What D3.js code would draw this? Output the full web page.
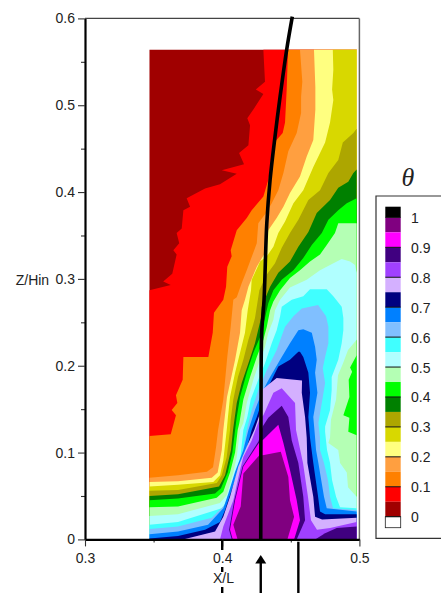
<!DOCTYPE html>
<html>
  <head>
    <meta charset="utf-8"/>
    <title>Theta contour</title>
    <style>
      html, body { margin: 0; padding: 0; background: #fff; overflow: hidden; }
      svg { display: block; }
      text { font-family: "Liberation Sans", Arial, sans-serif; font-size: 14px; fill: #222; }
    </style>
  </head>
  <body>
    <svg id="chart" width="441" height="593"></svg>

    <script src="https://d3js.org/d3.v7.min.js"></script>
    <script type="text/javascript">
      // contour outlines, [X/L, Z/Hin]
      const field_area = [[0.347,0.564],[0.498,0.564],[0.498,0],[0.347,0]];

      const contour_red = [[0.4300,0.564],[0.4305,0.548],[0.4312,0.527],[0.4245,0.518],[0.4300,0.513],[0.4227,0.495],[0.4183,0.485],[0.4203,0.477],[0.4191,0.454],[0.4123,0.445],[0.4159,0.432],[0.3997,0.425],[0.4106,0.421],[0.3984,0.409],[0.3875,0.404],[0.3741,0.393],[0.3766,0.383],[0.3717,0.379],[0.3705,0.358],[0.3668,0.353],[0.3687,0.341],[0.3644,0.333],[0.3668,0.328],[0.3636,0.306],[0.3570,0.297],[0.3625,0.293],[0.347,0.287],[0.347,0],[0.498,0],[0.498,0.564]];
      const contour_orange = [[0.4480,0.564],[0.4470,0.518],[0.4458,0.480],[0.4441,0.468],[0.4385,0.458],[0.4336,0.414],[0.4300,0.395],[0.4215,0.379],[0.4179,0.370],[0.4106,0.356],[0.4062,0.333],[0.4069,0.326],[0.4037,0.314],[0.4028,0.291],[0.4008,0.276],[0.3940,0.261],[0.3931,0.238],[0.3899,0.210],[0.3717,0.210],[0.3712,0.184],[0.3663,0.166],[0.3673,0.157],[0.3632,0.149],[0.3663,0.143],[0.3625,0.121],[0.347,0.119],[0.347,0],[0.498,0],[0.498,0.564]];
      const contour_light_orange = [[0.4567,0.564],[0.4584,0.527],[0.4575,0.510],[0.4575,0.491],[0.4543,0.468],[0.4482,0.447],[0.4446,0.422],[0.4409,0.402],[0.4361,0.387],[0.4319,0.376],[0.4263,0.364],[0.4252,0.341],[0.4179,0.310],[0.4142,0.295],[0.4106,0.279],[0.4081,0.276],[0.4062,0.245],[0.4037,0.210],[0.4008,0.161],[0.3970,0.126],[0.3955,0.106],[0.3933,0.083],[0.3889,0.078],[0.3678,0.074],[0.347,0.071],[0.347,0],[0.498,0],[0.498,0.564]];
      const contour_light_yellow = [[0.4669,0.564],[0.4679,0.521],[0.4679,0.495],[0.4664,0.460],[0.4616,0.441],[0.4567,0.418],[0.4494,0.399],[0.4446,0.383],[0.4397,0.370],[0.4336,0.356],[0.4312,0.330],[0.4252,0.314],[0.4191,0.291],[0.4166,0.276],[0.4142,0.264],[0.4130,0.238],[0.4094,0.207],[0.4035,0.164],[0.4008,0.126],[0.3997,0.103],[0.3967,0.077],[0.3924,0.071],[0.3678,0.067],[0.347,0.066],[0.347,0],[0.498,0],[0.498,0.564]];
      const contour_yellow = [[0.4806,0.564],[0.4810,0.541],[0.4801,0.518],[0.4810,0.506],[0.4786,0.480],[0.4750,0.457],[0.4664,0.429],[0.4591,0.402],[0.4519,0.387],[0.4458,0.366],[0.4409,0.353],[0.4373,0.337],[0.4325,0.326],[0.4276,0.320],[0.4215,0.299],[0.4210,0.287],[0.4186,0.264],[0.4166,0.238],[0.4130,0.215],[0.4094,0.192],[0.4057,0.164],[0.4042,0.141],[0.4033,0.126],[0.4008,0.091],[0.3984,0.074],[0.3935,0.066],[0.3678,0.063],[0.347,0.061],[0.347,0],[0.498,0],[0.498,0.564]];
      const contour_olive = [[0.498,0.473],[0.4956,0.468],[0.4879,0.457],[0.4846,0.437],[0.4774,0.422],[0.4713,0.402],[0.4628,0.391],[0.4555,0.368],[0.4494,0.353],[0.4434,0.336],[0.4385,0.318],[0.4325,0.305],[0.4271,0.287],[0.4239,0.255],[0.4225,0.247],[0.4191,0.230],[0.4154,0.207],[0.4115,0.187],[0.4081,0.161],[0.4062,0.138],[0.4057,0.126],[0.4033,0.095],[0.3997,0.074],[0.3961,0.065],[0.3678,0.057],[0.347,0.056],[0.347,0],[0.498,0]];
      const contour_dark_green = [[0.498,0.426],[0.4956,0.422],[0.4919,0.412],[0.4846,0.405],[0.4786,0.391],[0.4689,0.376],[0.4628,0.354],[0.4555,0.337],[0.4494,0.320],[0.4409,0.307],[0.4349,0.291],[0.4288,0.268],[0.4283,0.255],[0.4239,0.226],[0.4191,0.203],[0.4142,0.180],[0.4106,0.157],[0.4086,0.134],[0.4079,0.126],[0.4064,0.103],[0.4021,0.074],[0.3977,0.061],[0.3678,0.052],[0.347,0.050],[0.347,0],[0.498,0]];
      const contour_green = [[0.498,0.393],[0.4908,0.387],[0.4846,0.379],[0.4774,0.368],[0.4726,0.353],[0.4653,0.339],[0.4591,0.324],[0.4519,0.310],[0.4434,0.299],[0.4373,0.287],[0.4336,0.272],[0.4312,0.255],[0.4276,0.233],[0.4227,0.215],[0.4179,0.192],[0.4130,0.164],[0.4106,0.141],[0.4094,0.126],[0.4074,0.100],[0.4040,0.077],[0.3991,0.059],[0.3948,0.053],[0.3678,0.047],[0.347,0.045],[0.347,0],[0.498,0]];
      const contour_light_green = [[0.498,0.364],[0.4846,0.364],[0.4822,0.353],[0.4762,0.339],[0.4713,0.328],[0.4640,0.320],[0.4567,0.310],[0.4494,0.301],[0.4422,0.287],[0.4373,0.274],[0.4349,0.264],[0.4325,0.245],[0.4300,0.230],[0.4252,0.210],[0.4203,0.187],[0.4154,0.161],[0.4125,0.134],[0.4113,0.126],[0.4094,0.100],[0.4057,0.077],[0.4008,0.055],[0.3960,0.048],[0.3678,0.038],[0.347,0.037],[0.347,0],[0.498,0]];
      const blob_green = [[0.498,0.212],[0.4932,0.198],[0.4947,0.193],[0.4922,0.184],[0.4927,0.164],[0.4883,0.143],[0.4927,0.140],[0.4919,0.124],[0.498,0.120]];
      const contour_pale_cyan = [[0.347,0.027],[0.3678,0.029],[0.3984,0.042],[0.4033,0.051],[0.4081,0.077],[0.4106,0.095],[0.4130,0.126],[0.4154,0.134],[0.4179,0.157],[0.4227,0.184],[0.4276,0.207],[0.4312,0.222],[0.4336,0.238],[0.4373,0.253],[0.4385,0.264],[0.4422,0.276],[0.4494,0.290],[0.4616,0.299],[0.4713,0.310],[0.4786,0.316],[0.4871,0.323],[0.4932,0.320],[0.4968,0.316],[0.498,0.307],[0.498,0.230],[0.4917,0.218],[0.4881,0.203],[0.4844,0.189],[0.4830,0.161],[0.4793,0.138],[0.4786,0.117],[0.4774,0.111],[0.4846,0.103],[0.4859,0.088],[0.4908,0.077],[0.4917,0.060],[0.498,0.049],[0.498,0],[0.347,0]];
      const contour_cyan = [[0.347,0.017],[0.3678,0.020],[0.3997,0.036],[0.4057,0.048],[0.4106,0.072],[0.4130,0.091],[0.4154,0.126],[0.4183,0.141],[0.4208,0.161],[0.4263,0.184],[0.4312,0.203],[0.4361,0.226],[0.4397,0.241],[0.4422,0.257],[0.4434,0.268],[0.4507,0.276],[0.4591,0.280],[0.4640,0.288],[0.4762,0.288],[0.4810,0.280],[0.4871,0.268],[0.4883,0.255],[0.4883,0.241],[0.4871,0.226],[0.4846,0.207],[0.4798,0.187],[0.4798,0.172],[0.4786,0.149],[0.4750,0.130],[0.4750,0.124],[0.4764,0.103],[0.4786,0.088],[0.4801,0.068],[0.4830,0.049],[0.4859,0.037],[0.498,0.036],[0.498,0],[0.347,0]];
      const contour_light_blue = [[0.347,0.012],[0.3678,0.015],[0.3924,0.025],[0.4021,0.040],[0.4057,0.053],[0.4106,0.076],[0.4142,0.095],[0.4179,0.126],[0.4215,0.149],[0.4263,0.172],[0.4325,0.195],[0.4397,0.218],[0.4458,0.245],[0.4519,0.257],[0.4580,0.266],[0.4699,0.270],[0.4757,0.257],[0.4774,0.245],[0.4774,0.226],[0.4750,0.210],[0.4733,0.197],[0.4750,0.180],[0.4726,0.157],[0.4701,0.134],[0.4713,0.117],[0.4713,0.103],[0.4742,0.088],[0.4771,0.068],[0.4786,0.049],[0.4808,0.036],[0.498,0.034],[0.498,0],[0.347,0]];
      const contour_blue = [[0.347,0.006],[0.3678,0.009],[0.3897,0.017],[0.4008,0.036],[0.4045,0.053],[0.4094,0.078],[0.4154,0.103],[0.4191,0.126],[0.4239,0.149],[0.4288,0.169],[0.4349,0.187],[0.4422,0.207],[0.4494,0.226],[0.4555,0.241],[0.4591,0.242],[0.4653,0.238],[0.4677,0.222],[0.4689,0.207],[0.4677,0.192],[0.4694,0.169],[0.4664,0.141],[0.4677,0.117],[0.4684,0.103],[0.4701,0.088],[0.4742,0.049],[0.4762,0.036],[0.498,0.032],[0.498,0],[0.347,0]];
      const contour_navy = [[0.347,0.001],[0.3678,0.004],[0.3875,0.011],[0.3984,0.020],[0.4021,0.034],[0.4057,0.051],[0.4118,0.080],[0.4179,0.105],[0.4215,0.126],[0.4252,0.141],[0.4300,0.164],[0.4349,0.180],[0.4409,0.199],[0.4494,0.207],[0.4555,0.216],[0.4567,0.216],[0.4591,0.210],[0.4628,0.192],[0.4640,0.169],[0.4628,0.141],[0.4640,0.117],[0.4664,0.088],[0.4699,0.049],[0.4713,0.032],[0.4750,0.029],[0.498,0.029],[0.498,0],[0.347,0]];
      const contour_lavender = [[0.3714,0],[0.3948,0.009],[0.4008,0.026],[0.4057,0.049],[0.4118,0.084],[0.4179,0.107],[0.4234,0.126],[0.4271,0.143],[0.4288,0.172],[0.4336,0.178],[0.4397,0.186],[0.4582,0.183],[0.4580,0.169],[0.4604,0.141],[0.4616,0.117],[0.4621,0.088],[0.4664,0.049],[0.4677,0.026],[0.4728,0.023],[0.498,0.025],[0.498,0]];
      const contour_purple = [[0.3984,0],[0.4008,0.015],[0.4081,0.045],[0.4130,0.080],[0.4154,0.095],[0.4215,0.114],[0.4271,0.138],[0.4300,0.143],[0.4373,0.169],[0.4434,0.174],[0.4531,0.157],[0.4538,0.126],[0.4589,0.088],[0.4625,0.049],[0.4647,0.022],[0.4691,0.011],[0.4786,0.013],[0.498,0.020],[0.498,0]];
      const contour_indigo = [[0.4070,0],[0.4050,0.011],[0.4088,0.045],[0.4148,0.084],[0.4265,0.113],[0.4295,0.130],[0.4336,0.140],[0.4434,0.154],[0.4482,0.141],[0.4507,0.114],[0.4555,0.088],[0.4591,0.049],[0.4604,0.022],[0.4543,0]];
      const corner_indigo = [[0.4677,0],[0.4750,0.007],[0.4835,0.013],[0.498,0.015],[0.498,0]];
      const contour_magenta = [[0.4077,0],[0.4057,0.011],[0.4094,0.045],[0.4154,0.084],[0.4271,0.112],[0.4300,0.115],[0.4409,0.132],[0.4446,0.111],[0.4494,0.080],[0.4543,0.045],[0.4567,0.022],[0.4524,0]];
      const contour_dark_magenta = [[0.4112,0],[0.4081,0.017],[0.4135,0.038],[0.4154,0.076],[0.4271,0.097],[0.4295,0.097],[0.4427,0.101],[0.4482,0.072],[0.4494,0.045],[0.4524,0.026],[0.4475,0]];

      // the heavy curve running through the field
      const curve_x = [0.4511,0.4470,0.4422,0.4385,0.4349,0.4325,0.4305,0.4288,0.4283,0.4281];
      const curve_z = [0.602,0.564,0.510,0.464,0.414,0.364,0.276,0.238,0.161,0];

      const x_ticks = [0.3, 0.4, 0.5];
      const x_minor_ticks = [0.35, 0.45];
      const y_ticks = [0, 0.1, 0.2, 0.3, 0.4, 0.5, 0.6];
      const y_minor_ticks = [0.05, 0.15, 0.25, 0.35, 0.45, 0.55];

      const dash_mark_x = 0.4;
      const arrow_mark_x = 0.4281;
      const solid_mark_x = 0.4555;

      // legend, top to bottom
      const legend_levels = [1, 0.95, 0.9, 0.85, 0.8, 0.75, 0.7, 0.65, 0.6, 0.55, 0.5, 0.45, 0.4, 0.35, 0.3, 0.25, 0.2, 0.15, 0.1, 0.05, 0];
      const legend_colors = ["#800080", "#ff00ff", "#400080", "#a040ff", "#d4b0ff", "#000080", "#0080ff", "#80bfff", "#40ffff", "#b0ffff", "#b4ffb4", "#00ff00", "#008000", "#ada600", "#d8d800", "#ffff80", "#ff9f40", "#ff8000", "#ff0000", "#a00000"];
      const legend_labels = [1, 0.9, 0.8, 0.7, 0.6, 0.5, 0.4, 0.3, 0.2, 0.1, 0];

      const field_bands = [
        [field_area, "#a00000"],
        [contour_red, "#ff0000"],
        [contour_orange, "#ff8000"],
        [contour_light_orange, "#ff9f40"],
        [contour_light_yellow, "#ffff80"],
        [contour_yellow, "#d8d800"],
        [contour_olive, "#ada600"],
        [contour_dark_green, "#008000"],
        [contour_green, "#00ff00"],
        [contour_light_green, "#b4ffb4"],
        [blob_green, "#00ff00"],
        [contour_pale_cyan, "#b0ffff"],
        [contour_cyan, "#40ffff"],
        [contour_light_blue, "#80bfff"],
        [contour_blue, "#0080ff"],
        [contour_navy, "#000080"],
        [contour_lavender, "#d4b0ff"],
        [contour_purple, "#a040ff"],
        [contour_indigo, "#400080"],
        [corner_indigo, "#400080"],
        [contour_magenta, "#ff00ff"],
        [contour_dark_magenta, "#800080"]
      ];

      const svg = d3.select("#chart");

      const x_scale = d3.scaleLinear().domain([0.3, 0.5]).range([85, 359.4]);
      const y_scale = d3.scaleLinear().domain([0, 0.6]).range([539.4, 18.4]);
      const legend_scale = d3.scaleLinear().domain([0, 1]).range([516.7, 217.4]);

      const area_path = d3.line()
        .x(function(d) { return x_scale(d[0]); })
        .y(function(d) { return y_scale(d[1]); });

      svg.append("g").selectAll("path")
        .data(field_bands)
        .enter().append("path")
          .attr("d", function(d) { return area_path(d[0]) + "Z"; })
          .attr("fill", function(d) { return d[1]; });

      // frame: thin on top and right, heavy axes on the left and bottom
      svg.append("line")
        .attr("x1", x_scale(0.3)).attr("x2", x_scale(0.5))
        .attr("y1", y_scale(0.6)).attr("y2", y_scale(0.6))
        .attr("stroke", "#444").attr("stroke-width", 1.1);

      svg.append("line")
        .attr("x1", x_scale(0.5)).attr("x2", x_scale(0.5))
        .attr("y1", y_scale(0.6)).attr("y2", y_scale(0))
        .attr("stroke", "#666").attr("stroke-width", 1.5);

      const y_minor = svg.append("g")
        .attr("transform", "translate(" + x_scale(0.3) + ",0)")
        .call(d3.axisLeft(y_scale).tickValues(y_minor_ticks).tickSize(4).tickFormat(""));
      y_minor.select(".domain").remove();

      const x_minor = svg.append("g")
        .attr("transform", "translate(0," + y_scale(0) + ")")
        .call(d3.axisBottom(x_scale).tickValues(x_minor_ticks).tickSize(3).tickFormat(""));
      x_minor.select(".domain").remove();

      const y_axis = svg.append("g")
        .attr("transform", "translate(" + x_scale(0.3) + ",0)")
        .call(d3.axisLeft(y_scale).tickValues(y_ticks).tickSize(7).tickSizeOuter(0).tickPadding(3)
          .tickFormat(function(d) { return d === 0 ? "0" : d3.format(".1f")(d); }));

      const x_axis = svg.append("g")
        .attr("transform", "translate(0," + y_scale(0) + ")")
        .call(d3.axisBottom(x_scale).tickValues(x_ticks).tickSize(7).tickSizeOuter(0).tickPadding(6.7)
          .tickFormat(d3.format(".1f")));

      svg.selectAll(".domain").attr("stroke", "#000").attr("stroke-width", 2.2);
      svg.selectAll(".tick line").attr("stroke", "#333").attr("stroke-width", 1.1);
      y_axis.attr("font-size", null).attr("font-family", null);
      x_axis.attr("font-size", null).attr("font-family", null);

      svg.append("text").attr("x", 15.7).attr("y", 285).text("Z/Hin");
      svg.append("text").attr("x", 223.5).attr("y", 583).attr("text-anchor", "middle").text("X/L");

      // the curve
      const curve_line = d3.line()
        .x(function(d) { return x_scale(d); })
        .y(function(d, i) { return y_scale(curve_z[i]); })
        .curve(d3.curveCatmullRom);

      svg.append("path")
        .attr("d", curve_line(curve_x))
        .attr("fill", "none")
        .attr("stroke", "#000")
        .attr("stroke-width", 3.6);

      // section marks below the axis
      svg.append("line")
        .attr("x1", x_scale(dash_mark_x)).attr("x2", x_scale(dash_mark_x))
        .attr("y1", 540).attr("y2", 593)
        .attr("stroke", "#000").attr("stroke-width", 2.4)
        .attr("stroke-dasharray", "10 17 5 15 6");

      svg.append("line")
        .attr("x1", x_scale(solid_mark_x)).attr("x2", x_scale(solid_mark_x))
        .attr("y1", 541.7).attr("y2", 593)
        .attr("stroke", "#000").attr("stroke-width", 2.4);

      svg.append("line")
        .attr("x1", x_scale(arrow_mark_x)).attr("x2", x_scale(arrow_mark_x))
        .attr("y1", 560).attr("y2", 593)
        .attr("stroke", "#000").attr("stroke-width", 2.4);

      const ax = x_scale(arrow_mark_x);
      svg.append("path")
        .attr("d", "M" + ax + ",555L" + (ax + 5.5) + ",563.5H" + (ax - 5.5) + "Z")
        .attr("fill", "#000");

      // legend
      svg.append("path")
        .attr("d", "M445,196H376V538.3H445")
        .attr("fill", "#fff")
        .attr("stroke", "#333")
        .attr("stroke-width", 1.2);

      const legend_x = 385.3;
      const legend_w = 15.4;

      svg.append("rect")
        .attr("x", legend_x).attr("y", 206.7)
        .attr("width", legend_w).attr("height", legend_scale(1) - 206.7)
        .attr("fill", "#000");

      svg.append("g").selectAll("rect")
        .data(legend_colors)
        .enter().append("rect")
          .attr("x", legend_x)
          .attr("y", function(d, i) { return legend_scale(legend_levels[i]); })
          .attr("width", legend_w)
          .attr("height", function(d, i) { return legend_scale(legend_levels[i + 1]) - legend_scale(legend_levels[i]); })
          .attr("fill", function(d) { return d; });

      svg.append("rect")
        .attr("x", legend_x).attr("y", legend_scale(0))
        .attr("width", legend_w).attr("height", 527.7 - legend_scale(0))
        .attr("fill", "#fff")
        .attr("stroke", "#222")
        .attr("stroke-width", 0.8);

      svg.append("g").selectAll("line")
        .data(legend_labels)
        .enter().append("line")
          .attr("x1", legend_x).attr("x2", legend_x + legend_w)
          .attr("y1", function(d) { return legend_scale(d); })
          .attr("y2", function(d) { return legend_scale(d); })
          .attr("stroke", "#111")
          .attr("stroke-width", 1);

      svg.append("g").selectAll("text")
        .data(legend_labels)
        .enter().append("text")
          .attr("x", 411)
          .attr("y", function(d) { return legend_scale(d) + 5.5; })
          .text(function(d) { return d; });

      svg.append("text")
        .attr("x", 408).attr("y", 185.5)
        .attr("text-anchor", "middle")
        .style("font-family", '"Liberation Serif", serif')
        .style("font-style", "italic")
        .style("font-size", "26px")
        .text("θ");
    </script>
  </body>
</html>
